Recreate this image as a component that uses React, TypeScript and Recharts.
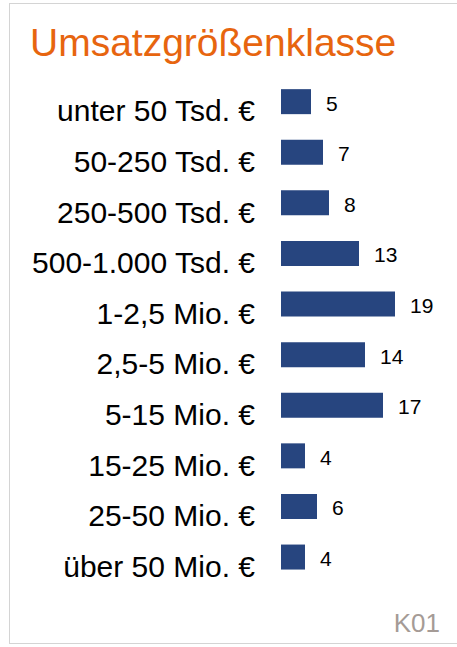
import React from 'react';
import { BarChart, Bar, XAxis, YAxis, LabelList } from 'recharts';

const categories = [
  'unter 50 Tsd. €',
  '50-250 Tsd. €',
  '250-500 Tsd. €',
  '500-1.000 Tsd. €',
  '1-2,5 Mio. €',
  '2,5-5 Mio. €',
  '5-15 Mio. €',
  '15-25 Mio. €',
  '25-50 Mio. €',
  'über 50 Mio. €',
];
const values = [5, 7, 8, 13, 19, 14, 17, 4, 6, 4];
const title = 'Umsatzgrößenklasse';
const footnote = 'K01';

const data = categories.map((name, i) => ({ name, value: values[i] }));

const FONT = '"Liberation Sans", Arial, sans-serif';

const CategoryTick = (props: any) => {
  const { x, y, payload } = props;
  return (
    <text x={x} y={y + 19.5} textAnchor="end" fontSize={30} fontFamily={FONT} fill="#000">
      {payload.value}
    </text>
  );
};

const ValueLabel = (props: any) => {
  const { x, y, width, height, value } = props;
  return (
    <text x={x + width + 15} y={y + height / 2 + 9} fontSize={21} fontFamily={FONT} fill="#000">
      {value}
    </text>
  );
};

export default function App() {
  return (
    <div style={{ position: 'absolute', left: 0, top: 0, width: 457, height: 647, background: '#fff', overflow: 'hidden' }}>
      <div
        style={{
          position: 'absolute',
          left: 9,
          top: 3,
          width: 460,
          height: 641,
          border: '1px solid #d4d4d4',
          boxSizing: 'border-box',
        }}
      />
      <div style={{ position: 'absolute', left: 0, top: 0 }}>
        <BarChart
          width={457}
          height={647}
          data={data}
          layout="vertical"
          margin={{ top: 76.5, right: 26, bottom: 64.5, left: 0 }}
          barCategoryGap="25%"
        >
          <XAxis type="number" domain={[0, 25]} hide />
          <YAxis
            type="category"
            dataKey="name"
            width={281}
            axisLine={false}
            tickLine={false}
            tickSize={0}
            tickMargin={26}
            interval={0}
            tick={<CategoryTick />}
          />
          <Bar dataKey="value" fill="#27457F" isAnimationActive={false}>
            <LabelList dataKey="value" content={<ValueLabel />} />
          </Bar>
        </BarChart>
      </div>
      <svg width={457} height={647} style={{ position: 'absolute', left: 0, top: 0, pointerEvents: 'none' }}>
        <text x={30} y={56} fontSize={39} fontFamily={FONT} fill="#E7650F">
          {title}
        </text>
        <text x={440} y={631.5} textAnchor="end" fontSize={26} fontFamily={FONT} fill="#A59B96">
          {footnote}
        </text>
      </svg>
    </div>
  );
}
